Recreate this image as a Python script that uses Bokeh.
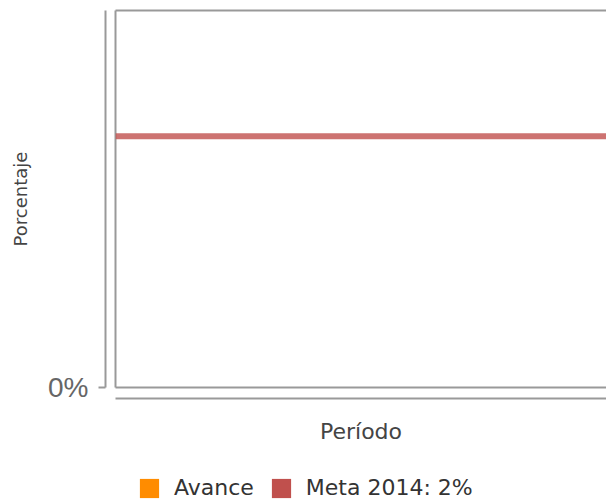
from bokeh.plotting import figure
from bokeh.layouts import column
from bokeh.models import (Range1d, LinearAxis, FixedTicker, PrintfTickFormatter,
                          Span, Legend, LegendItem)
from bokeh.embed import file_html
from bokeh.resources import INLINE

# ---- data ----
periodos = [2014]
avance = [0]
meta_2014 = 2
y_ticks = [0]
serie_avance = "Avance"
serie_meta = "Meta 2014: 2%"
x_title = "Período"
y_title = "Porcentaje"

GRAY = "#999999"
ORANGE = "#ff8c00"
RED = "#c0504d"

p = figure(width=606, height=463, output_backend="svg", toolbar_location=None,
           x_range=Range1d(2013.5, 2014.5), y_range=Range1d(0, 3),
           x_axis_location=None, y_axis_location=None,
           min_border_left=115, min_border_right=0, min_border_top=10,
           min_border_bottom=76)
p.outline_line_color = None
p.xgrid.grid_line_color = None
p.ygrid.grid_line_color = None


def blank_axis(ticks, tick_out, line=True, **kw):
    return LinearAxis(ticker=FixedTicker(ticks=ticks, minor_ticks=[]),
                      major_tick_out=tick_out, major_tick_in=0,
                      minor_tick_out=0, minor_tick_in=0,
                      major_tick_line_color=None, minor_tick_line_color=None,
                      major_label_text_font_size="0px", major_label_standoff=0,
                      major_label_text_color=None,
                      axis_line_color=GRAY if line else None, axis_line_width=2, **kw)


# inner frame edges
p.add_layout(blank_axis(periodos, 0), "above")
p.add_layout(blank_axis(y_ticks, 10), "left")
p.add_layout(blank_axis(periodos, 11), "below")

# real y axis (offset)
yax = LinearAxis(ticker=FixedTicker(ticks=y_ticks, minor_ticks=[]),
                 formatter=PrintfTickFormatter(format="%d%%"),
                 major_tick_out=7, major_tick_in=0, minor_tick_out=0, minor_tick_in=0,
                 major_tick_line_color=GRAY, major_tick_line_width=2,
                 minor_tick_line_color=None,
                 axis_line_color=GRAY, axis_line_width=2,
                 major_label_standoff=10,
                 major_label_text_font="Liberation Sans",
                 major_label_text_font_size="28px",
                 major_label_text_color="#666666",
                 axis_label=y_title, axis_label_standoff=14,
                 axis_label_text_font="DejaVu Sans",
                 axis_label_text_font_size="18px",
                 axis_label_text_font_style="normal",
                 axis_label_text_color="#444444")
p.add_layout(yax, "left")

# real x axis (offset)
xax = blank_axis(periodos, 0, axis_label=x_title, axis_label_standoff=20,
                 axis_label_text_font="DejaVu Sans",
                 axis_label_text_font_size="22px",
                 axis_label_text_font_style="normal",
                 axis_label_text_color="#444444")
p.add_layout(xax, "below")

# series
p.vbar(x=periodos, top=avance, bottom=[0] * len(periodos), width=0.5,
       fill_color=ORANGE, line_color=None)
p.add_layout(Span(location=meta_2014, dimension="width", line_color=RED,
                  line_alpha=0.8, line_width=6))

# legend strip
q = figure(width=606, height=40, output_backend="svg", toolbar_location=None,
           x_range=Range1d(2013.5, 2014.5), y_range=Range1d(0, 3),
           x_axis_location=None, y_axis_location=None,
           min_border_left=0, min_border_right=0, min_border_top=0,
           min_border_bottom=0)
q.outline_line_color = None
q.xgrid.grid_line_color = None
q.ygrid.grid_line_color = None
r_av = q.vbar(x=periodos, top=avance, bottom=[0] * len(periodos), width=0.5,
              fill_color=ORANGE, line_color=None)
r_meta = q.vbar(x=periodos, top=[meta_2014] * len(periodos),
                bottom=[meta_2014] * len(periodos), width=0.5,
                fill_color=RED, line_color=None)
legend = Legend(items=[LegendItem(label=serie_avance, renderers=[r_av]),
                       LegendItem(label=serie_meta, renderers=[r_meta])],
                orientation="horizontal", location=(22, 3),
                glyph_width=24, glyph_height=24, label_standoff=13, spacing=15,
                padding=0, margin=0, border_line_color=None,
                background_fill_alpha=0,
                label_text_font="DejaVu Sans", label_text_font_size="22px",
                label_text_color="#333333")
q.add_layout(legend)

layout = column(p, q, spacing=0)
open("out.html", "w").write(file_html(layout, INLINE))
